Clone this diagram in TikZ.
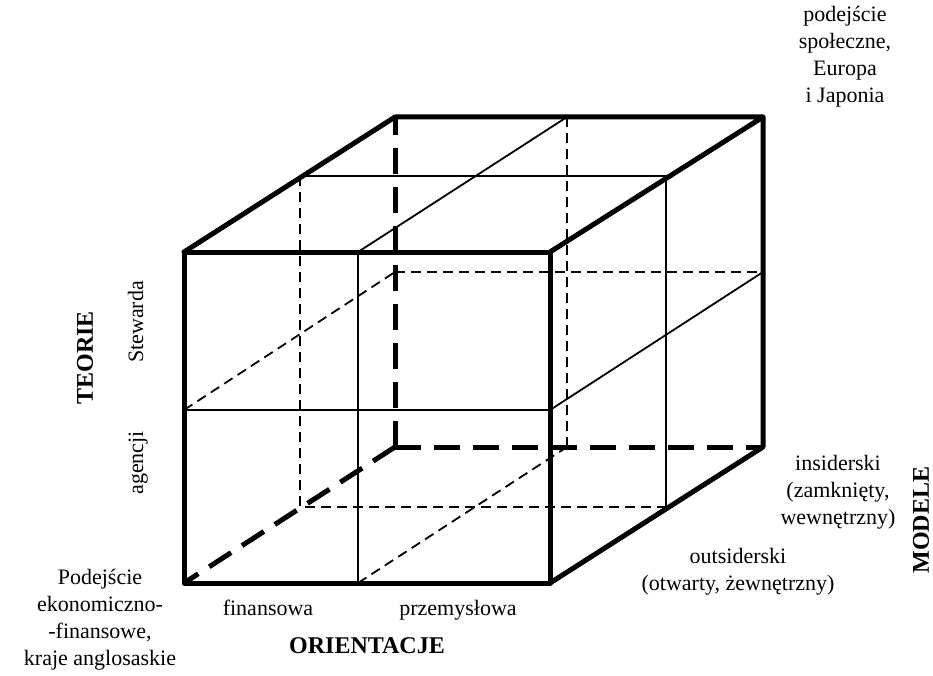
\documentclass[tikz,border=0pt]{standalone}
\usepackage{fontspec}
\setmainfont{Liberation Serif}
\usetikzlibrary{positioning}

\begin{document}
\begin{tikzpicture}[
    x=1pt, y=-1pt,
    edge/.style={line width=5pt, line join=round, line cap=round},
    edgehidden/.style={line width=5pt, dash pattern=on 26pt off 13pt},
    divline/.style={line width=1.8pt},
    divhidden/.style={line width=1.8pt, dash pattern=on 10pt off 6pt},
    txt/.style={font=\fontsize{22}{27}\selectfont, align=center, inner sep=0pt},
    axistxt/.style={font=\fontsize{24}{28}\selectfont\bfseries, inner sep=0pt}
]
\useasboundingbox (0,0) rectangle (933,676);

% Front face corners and middles
\coordinate (F1) at (184,252);
\coordinate (F2) at (550,252);
\coordinate (F3) at (550,583);
\coordinate (F4) at (184,583);
\coordinate (Ftm) at (358,252);
\coordinate (Fbm) at (358,583);
\coordinate (Flm) at (184,410);
\coordinate (Frm) at (550,410);

% Back face corners and middles
\coordinate (B1) at (395,117);
\coordinate (B2) at (763,117);
\coordinate (B3) at (763,447);
\coordinate (B4) at (395,447);
\coordinate (Btm) at (567,117);
\coordinate (Bbm) at (567,447);
\coordinate (Blm) at (395,272);
\coordinate (Brm) at (763,272);

% Half depth
\coordinate (M1) at (300,176);
\coordinate (M2) at (666,176);
\coordinate (M3) at (666,507);
\coordinate (M4) at (300,507);

% Thin dividing lines
\draw[divline] (Ftm) -- (Fbm);
\draw[divline] (Flm) -- (Frm);
\draw[divline] (M1) -- (M2) -- (M3);
\draw[divline] (Ftm) -- (Btm);
\draw[divline] (Frm) -- (Brm);

% Hidden dividing lines
\draw[divhidden] (Btm) -- (Bbm);
\draw[divhidden] (Blm) -- (Brm);
\draw[divhidden] (Flm) -- (Blm);
\draw[divhidden] (Fbm) -- (Bbm);
\draw[divhidden] (M1) -- (M4) -- (M3);

% Hidden edges
\draw[edgehidden] (B4) -- (B1);
\draw[edgehidden] (B4) -- (B3);
\draw[edgehidden] (B4) -- (F4);

% Visible edges
\draw[edge] (F1) -- (F2) -- (F3) -- (F4) -- cycle;
\draw[edge] (F1) -- (B1) -- (B2) -- (F2);
\draw[edge] (B2) -- (B3) -- (F3);

% Labels
\node[txt] (social) at (845,57) {podejście\\społeczne,\\Europa\\i Japonia};
\node[txt] (economic) at (100,620) {Podejście\\ekonomiczno-\\-finansowe,\\kraje anglosaskie};
\node[axistxt, rotate=90] (theories) at (85,358) {TEORIE};
\node[txt, rotate=90, anchor=base] (steward) at (143,322) {Stewarda};
\node[txt, rotate=90, anchor=base] (agency) at (143,463) {agencji};
\node[txt, anchor=base] (financial) at (268,615) {finansowa};
\node[txt, anchor=base] (industrial) at (458,615) {przemysłowa};
\node[axistxt] (orient) at (367,646) {ORIENTACJE};
\node[txt] (insider) at (838,492) {insiderski\\(zamknięty,\\wewnętrzny)};
\node[txt] (outsider) at (738,572) {outsiderski\\(otwarty, żewnętrzny)};
\node[axistxt, rotate=90] (models) at (921,520) {MODELE};

\end{tikzpicture}
\end{document}
